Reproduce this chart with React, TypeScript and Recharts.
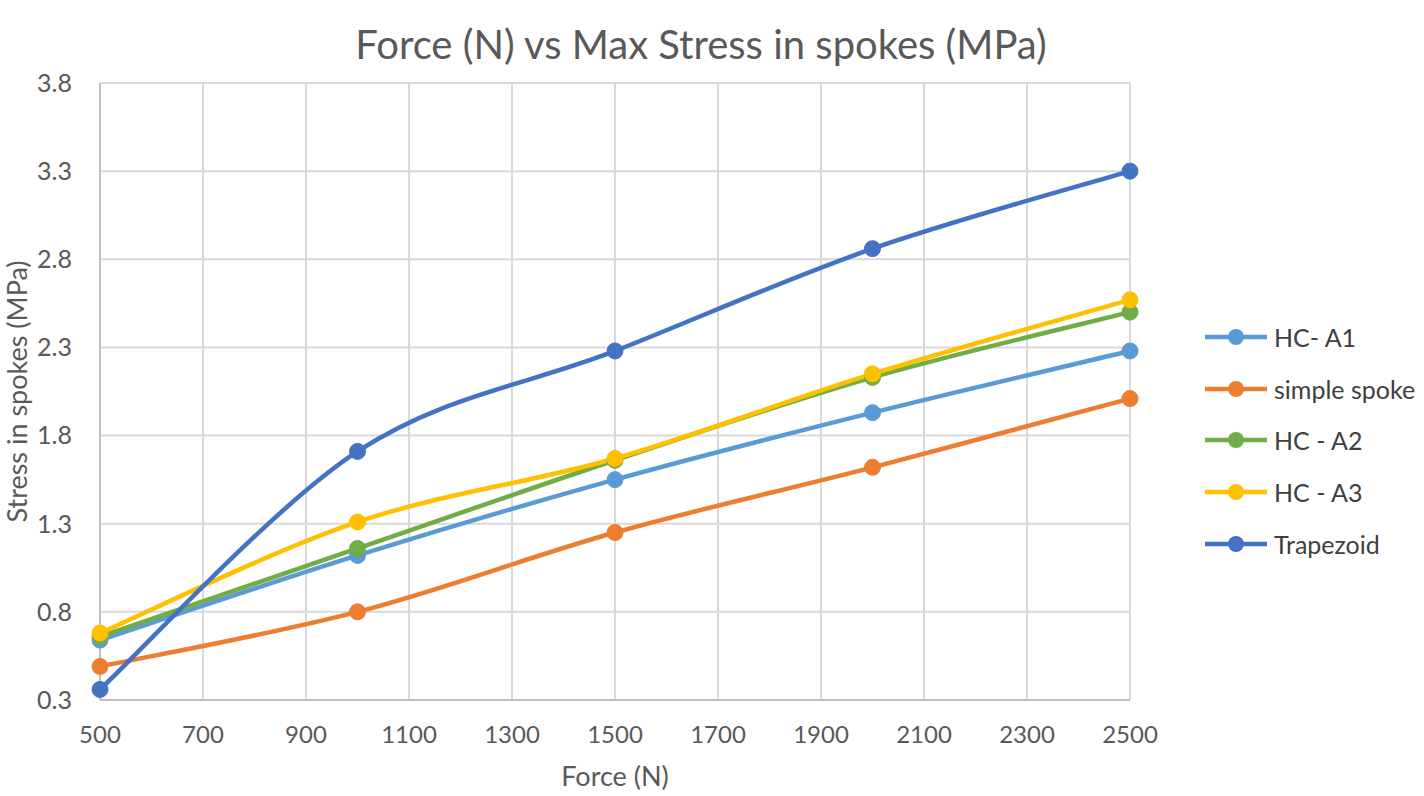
import { LineChart, Line, XAxis, YAxis, CartesianGrid } from 'recharts';

const forces = [500, 1000, 1500, 2000, 2500];
const hcA1 = [0.64, 1.12, 1.55, 1.93, 2.28];
const simpleSpoke = [0.49, 0.8, 1.25, 1.62, 2.01];
const hcA2 = [0.66, 1.16, 1.66, 2.13, 2.5];
const hcA3 = [0.68, 1.31, 1.67, 2.15, 2.57];
const trapezoid = [0.36, 1.71, 2.28, 2.86, 3.3];

const xTicks = [500, 700, 900, 1100, 1300, 1500, 1700, 1900, 2100, 2300, 2500];
const yTicks = [0.3, 0.8, 1.3, 1.8, 2.3, 2.8, 3.3, 3.8];

const series = [
  { key: 'hcA1', name: 'HC- A1', color: '#5B9BD5', values: hcA1 },
  { key: 'simple', name: 'simple spoke', color: '#ED7D31', values: simpleSpoke },
  { key: 'hcA2', name: 'HC - A2', color: '#70AD47', values: hcA2 },
  { key: 'hcA3', name: 'HC - A3', color: '#FFC000', values: hcA3 },
  { key: 'trap', name: 'Trapezoid', color: '#4472C4', values: trapezoid },
];

const data = forces.map((f, i) => {
  const row: Record<string, number> = { force: f };
  series.forEach(s => { row[s.key] = s.values[i]; });
  return row;
});

// Excel-style smoothing (Catmull-Rom, 1/6 tangents)
function excelSmooth(context: any) {
  let pts: [number, number][] = [];
  return {
    areaStart() {},
    areaEnd() {},
    lineStart() { pts = []; },
    point(x: number, y: number) { pts.push([+x, +y]); },
    lineEnd() {
      if (!pts.length) return;
      context.moveTo(pts[0][0], pts[0][1]);
      for (let i = 0; i < pts.length - 1; i++) {
        const p0 = pts[Math.max(0, i - 1)];
        const p1 = pts[i];
        const p2 = pts[i + 1];
        const p3 = pts[Math.min(pts.length - 1, i + 2)];
        context.bezierCurveTo(
          p1[0] + (p2[0] - p0[0]) / 6, p1[1] + (p2[1] - p0[1]) / 6,
          p2[0] - (p3[0] - p1[0]) / 6, p2[1] - (p3[1] - p1[1]) / 6,
          p2[0], p2[1],
        );
      }
    },
  };
}

const FONT = 'Lato, "Open Sans", sans-serif';
const TEXT = '#595959';

export default function App() {
  return (
    <div style={{ position: 'absolute', left: 0, top: 0, width: 1424, height: 796, background: '#fff', fontFamily: FONT }}>
      <div style={{ position: 'absolute', top: 18, left: 0, width: 1402, textAlign: 'center', fontSize: 40, lineHeight: '52px', color: TEXT }}>
        Force (N) vs Max Stress in spokes (MPa)
      </div>
      <LineChart width={1424} height={796} data={data} margin={{ top: 83, right: 294, bottom: 0, left: 0 }}>
        <CartesianGrid stroke="#D9D9D9" strokeWidth={2} />
        <XAxis
          dataKey="force"
          type="number"
          domain={[500, 2500]}
          ticks={xTicks}
          height={96}
          tickLine={false}
          axisLine={{ stroke: '#BFBFBF', strokeWidth: 2 }}
          tick={{ fill: TEXT, fontSize: 24, fontFamily: FONT }}
          tickMargin={20}
          label={{ value: 'Force (N)', position: 'insideBottom', offset: 10, fill: TEXT, fontSize: 27, fontFamily: FONT }}
        />
        <YAxis
          type="number"
          domain={[0.3, 3.8]}
          ticks={yTicks}
          width={100}
          tickLine={false}
          axisLine={{ stroke: '#BFBFBF', strokeWidth: 2 }}
          tick={{ fill: TEXT, fontSize: 25, fontFamily: FONT }}
          tickMargin={22}
          tickFormatter={(v: number) => v.toFixed(1)}
          label={{ value: 'Stress in spokes (MPa)', angle: -90, position: 'insideLeft', offset: 17, fill: TEXT, fontSize: 27, fontFamily: FONT, style: { textAnchor: 'middle' } }}
        />
        {series.map(s => (
          <Line
            key={s.key}
            dataKey={s.key}
            name={s.name}
            stroke={s.color}
            strokeWidth={4.5}
            type={excelSmooth as any}
            dot={{ r: 8, fill: s.color, stroke: s.color, strokeWidth: 1 }}
            activeDot={false}
            isAnimationActive={false}
          />
        ))}
      </LineChart>
      <div style={{ position: 'absolute', left: 1205, top: 311 }}>
        {series.map(s => (
          <div key={s.key} style={{ display: 'flex', alignItems: 'center', height: 51.7 }}>
            <svg width={64} height={20}>
              <line x1={0} y1={10} x2={62} y2={10} stroke={s.color} strokeWidth={4.5} />
              <circle cx={31} cy={10} r={8} fill={s.color} />
            </svg>
            <span style={{ marginLeft: 5, fontSize: 25, color: '#404040' }}>{s.name}</span>
          </div>
        ))}
      </div>
    </div>
  );
}
